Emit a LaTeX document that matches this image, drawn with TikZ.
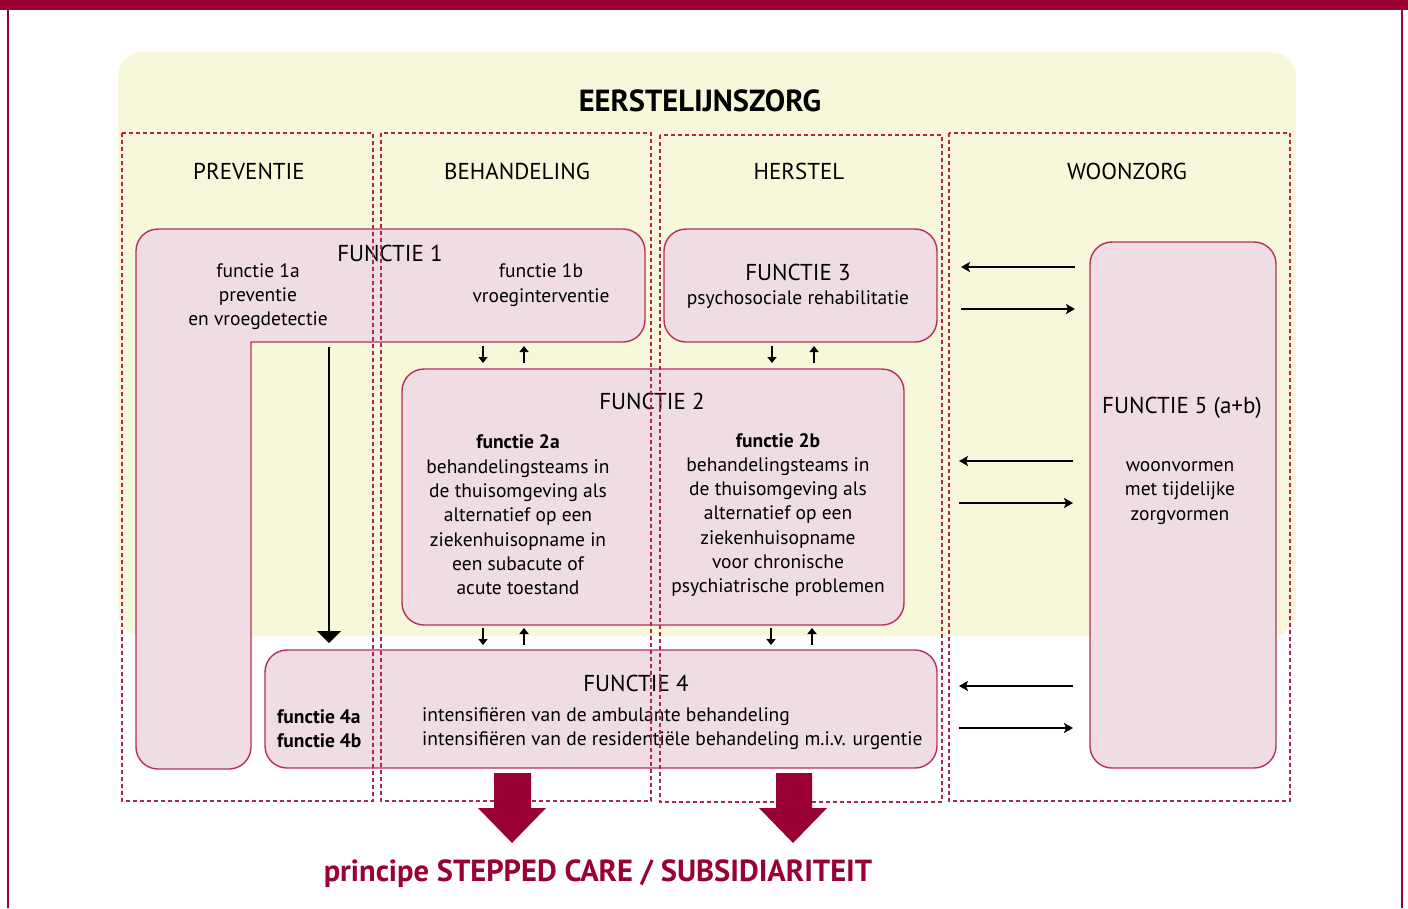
\documentclass[tikz,border=0pt]{standalone}
\usepackage{fontspec}
\setmainfont{PT Sans}
\usetikzlibrary{arrows.meta}
\definecolor{dred}{HTML}{990033}
\definecolor{bgyel}{HTML}{F7F7DA}
\definecolor{boxpink}{HTML}{F0DCE3}
\definecolor{boxline}{HTML}{B5305C}
\definecolor{dashc}{HTML}{B02452}
\begin{document}
\begin{tikzpicture}[x=1pt,y=-1pt,
  box/.style={draw=boxline, fill=boxpink, line width=1.4pt, rounded corners=22pt, inner sep=0pt},
  colbox/.style={draw=dashc, line width=1.25pt, dash pattern=on 4pt off 3pt},
  txt/.style={inner sep=0pt, font=\fontsize{19.5}{24.3}\selectfont, align=center, text=black},
  head/.style={inner sep=0pt, font=\fontsize{23}{27}\selectfont, text=black},
  smallarr/.style={line width=1.8pt, -{Stealth[length=6pt,width=9pt,inset=0pt]}},
  sidearr/.style={line width=2pt, -{Stealth[length=9pt,width=10pt,inset=2pt]}},
  bigarr/.style={line width=2pt, -{Triangle[length=12pt,width=24pt]}},
  blockarr/.style={fill=dred}]
\useasboundingbox (0,0) rectangle (1408,908);
% frame
\fill[dred] (0,0) rectangle (1408,10);
\draw[dred, line width=2pt] (8,10) -- (8,908);
\draw[dred, line width=2pt] (1402,10) -- (1402,908);
% background
\fill[bgyel, rounded corners=25pt] (118,52) rectangle (1296,636);
\node[inner sep=0pt, font=\fontsize{30.5}{33}\selectfont\bfseries] (title) at (700,101) {EERSTELIJNSZORG};
% column headers
\node[head] (hprev) at (249,171) {PREVENTIE};
\node[head] (hbeh) at (517,171) {BEHANDELING};
\node[head] (hher) at (799,171) {HERSTEL};
\node[head] (hwoon) at (1127,171) {WOONZORG};
% FUNCTIE 1 (L shape)
\draw[draw=boxline, fill=boxpink, line width=1.4pt]
  (251,342) -- (623,342) arc[start angle=90, end angle=0, radius=22]
  -- (645,251) arc[start angle=0, end angle=-90, radius=22]
  -- (158,229) arc[start angle=270, end angle=180, radius=22]
  -- (136,747) arc[start angle=180, end angle=90, radius=22]
  -- (229,769) arc[start angle=90, end angle=0, radius=22]
  -- cycle;
\node[head] (f1t) at (390,253) {FUNCTIE 1};
\node[txt] (f1a) at (258,296.5) {functie 1a\\preventie\\en vroegdetectie};
\node[txt] (f1b) at (541,285) {functie 1b\\vroeginterventie};
% FUNCTIE 3
\node[box, minimum width=273pt, minimum height=113pt] (f3) at (800.5,285.5) {};
\node[head] (f3t) at (798,272) {FUNCTIE 3};
\node[txt] (f3s) at (798,299.5) {psychosociale rehabilitatie};
% FUNCTIE 2
\node[box, minimum width=502pt, minimum height=256pt] (f2) at (653,497) {};
\node[head] (f2t) at (652,401) {FUNCTIE 2};
\node[txt] (f2a) at (518,515) {\textbf{functie 2a}\\behandelingsteams in\\de thuisomgeving als\\alternatief op een\\ziekenhuisopname in\\een subacute of\\acute toestand};
\node[txt] (f2b) at (778,515) {\textbf{functie 2b}\\behandelingsteams in\\de thuisomgeving als\\alternatief op een\\ziekenhuisopname\\voor chronische\\psychiatrische problemen};
% FUNCTIE 4
\node[box, minimum width=672pt, minimum height=118pt] (f4) at (601,709) {};
\node[head] (f4t) at (636,683) {FUNCTIE 4};
\node[txt, align=left, anchor=west] (f4ab) at (277,729) {\textbf{functie 4a}\\\textbf{functie 4b}};
\node[txt, align=left, anchor=west] (f4s) at (422,729) {intensifiëren van de ambulante behandeling\\intensifiëren van de residentiële behandeling m.i.v. urgentie};
% FUNCTIE 5
\node[box, minimum width=186pt, minimum height=526pt] (f5) at (1183,505) {};
\node[head] (f5t) at (1182,408) {FUNCTIE 5 (a+b)};
\node[txt] (f5s) at (1180,493) {woonvormen\\met tijdelijke\\zorgvormen};
% small vertical arrows
\coordinate (a1) at (483,346); \coordinate (a2) at (483,363);
\coordinate (a3) at (524,363); \coordinate (a4) at (524,346);
\coordinate (b1) at (772,346); \coordinate (b2) at (772,363);
\coordinate (b3) at (814,363); \coordinate (b4) at (814,346);
\coordinate (c1) at (483,628); \coordinate (c2) at (483,645);
\coordinate (c3) at (524,645); \coordinate (c4) at (524,628);
\coordinate (d1) at (771,628); \coordinate (d2) at (771,645);
\coordinate (d3) at (812,645); \coordinate (d4) at (812,628);
\draw[smallarr] (a1) -- (a2); \draw[smallarr] (a3) -- (a4);
\draw[smallarr] (b1) -- (b2); \draw[smallarr] (b3) -- (b4);
\draw[smallarr] (c1) -- (c2); \draw[smallarr] (c3) -- (c4);
\draw[smallarr] (d1) -- (d2); \draw[smallarr] (d3) -- (d4);
% big arrow F1 -> F4
\coordinate (g1) at (329,347); \coordinate (g2) at (329,643);
\draw[bigarr] (g1) -- (g2);
% side arrows
\coordinate (h1r) at (1075,267); \coordinate (h1l) at (961,267);
\coordinate (h2l) at (961,309); \coordinate (h2r) at (1075,309);
\coordinate (h3r) at (1073,461); \coordinate (h3l) at (959,461);
\coordinate (h4l) at (959,503); \coordinate (h4r) at (1073,503);
\coordinate (h5r) at (1073,686); \coordinate (h5l) at (959,686);
\coordinate (h6l) at (959,728); \coordinate (h6r) at (1073,728);
\draw[sidearr] (h1r) -- (h1l); \draw[sidearr] (h2l) -- (h2r);
\draw[sidearr] (h3r) -- (h3l); \draw[sidearr] (h4l) -- (h4r);
\draw[sidearr] (h5r) -- (h5l); \draw[sidearr] (h6l) -- (h6r);
% dashed columns
\draw[colbox] (122,133) rectangle (373,801);
\draw[colbox] (381,133) rectangle (651,801);
\draw[colbox] (660,135) rectangle (942,802);
\draw[colbox] (949,133) rectangle (1290,801);
% block arrows
\fill[blockarr] (494,773) -- (531,773) -- (531,808) -- (546,808) -- (512,843) -- (478,808) -- (494,808) -- cycle;
\fill[blockarr] (776,773) -- (812,773) -- (812,808) -- (827,808) -- (793,843) -- (759,808) -- (776,808) -- cycle;
\node[inner sep=0pt, font=\fontsize{30.5}{34}\selectfont\bfseries, text=dred] (principe) at (598,874) {principe STEPPED CARE / SUBSIDIARITEIT};
\end{tikzpicture}
\end{document}
